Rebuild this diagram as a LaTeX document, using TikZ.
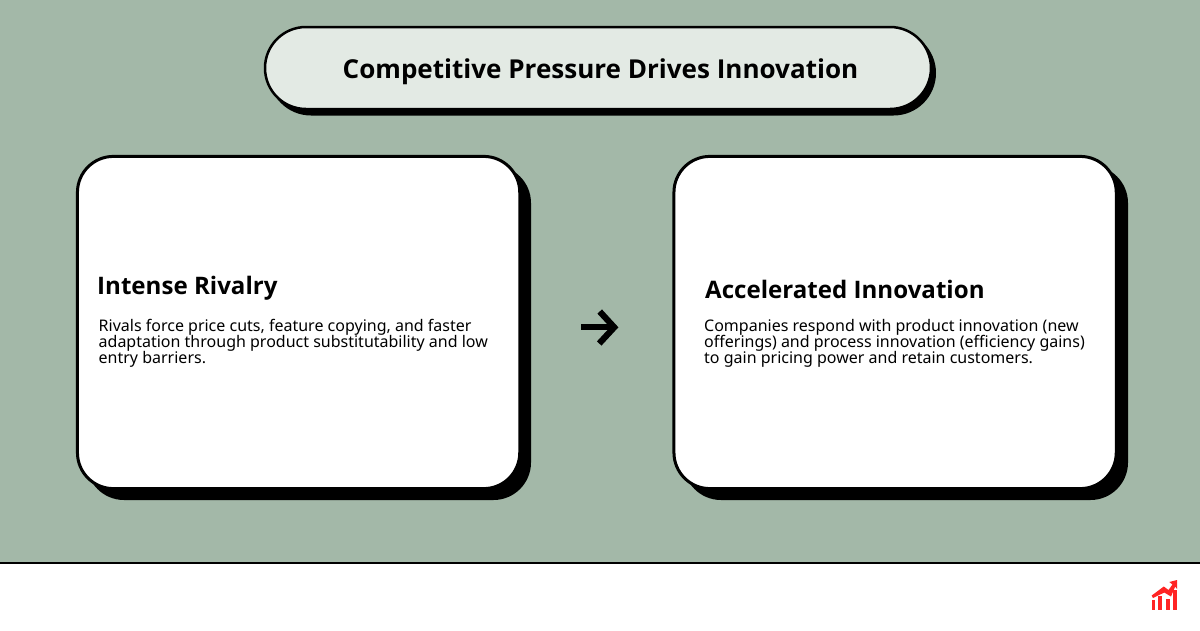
\documentclass[tikz,border=0pt]{standalone}
\usepackage{fontspec}
\setmainfont{Noto Sans}
\newfontfamily\headfont{Open Sans}
\definecolor{bgc}{HTML}{A3B8A8}
\definecolor{pillc}{HTML}{E3EAE4}
\definecolor{iconc}{HTML}{FF2424}
\lineskiplimit=-30pt
\tikzset{
  px/.style={x=1pt,y=-1pt},
  cardbox/.style={draw=black,line width=3pt,fill=white,rounded corners=36pt,minimum width=442.3pt,minimum height=332.2pt,inner sep=0pt},
  cardshadow/.style={fill=black,draw=black,line width=3pt,rounded corners=36pt},
  titletext/.style={font=\headfont\bfseries\fontsize{26.04}{32}\selectfont,inner sep=0pt,anchor=base},
  headtext/.style={font=\headfont\bfseries\fontsize{24.1}{29}\selectfont,anchor=base west,inner sep=0pt},
  bodytext/.style={font=\fontsize{16}{16.2}\selectfont,anchor=north west,inner sep=0pt,align=left},
}
\begin{document}
\begin{tikzpicture}[px]
\useasboundingbox (0,0) rectangle (1200,630);
\fill[bgc] (0,0) rectangle (1200,562);
\fill[white] (0,562) rectangle (1200,630);
\draw[black,line width=2pt] (0,562.5) -- (1200,562.5);
% title pill
\draw[cardshadow,rounded corners=41pt] (270,32) rectangle (934.5,114);
\draw[draw=black,line width=2.5pt,fill=pillc,rounded corners=41pt] (265,27) rectangle (931,109);
\node[titletext] (title) at (600.5,78) {Competitive Pressure Drives Innovation};
% left card
\draw[cardshadow] (88,167) rectangle (529.5,498.5);
\node[cardbox] (left) at (298.6,322.5) {};
\node[headtext] (lefth) at (97,294) {Intense Rivalry};
\node[bodytext] (leftb) at (98.5,319) {Rivals force price cuts, feature copying, and faster\\adaptation through product substitutability and low\\entry barriers.};
% right card
\draw[cardshadow] (685,167) rectangle (1126.5,498.5);
\node[cardbox] (right) at (895.1,322.5) {};
\node[headtext] (righth) at (705,298) {Accelerated Innovation};
\node[bodytext] (rightb) at (704,319) {Companies respond with product innovation (new\\offerings) and process innovation (efficiency gains)\\to gain pricing power and retain customers.};
% arrow glyph
\coordinate (as) at (581,327.3);
\coordinate (ae) at (614,327.3);
\coordinate (at1) at (599.7,311.5);
\coordinate (at2) at (599.2,343.5);
\coordinate (tip) at (614.2,327.3);
\draw[black,line width=6.2pt] (as) -- (ae);
\draw[black,line width=6.2pt,miter limit=10] (at1) -- (tip) -- (at2);
% icon
\fill[iconc] (1151.7,600) rectangle (1155.3,609.5);
\fill[iconc] (1158.3,596) rectangle (1162.3,609.5);
\fill[iconc] (1165.7,599) rectangle (1169.7,609.5);
\fill[iconc] (1173.3,590) rectangle (1177,609.5);
\fill[iconc] (1151.7,595.5) -- (1163.8,586.5) -- (1168.5,590) -- (1172.5,584.5) -- (1169.3,582) -- (1177,580) -- (1177,589) -- (1175.2,586.5) -- (1171,596.5) -- (1164.3,592.5) -- (1153,598) -- cycle;
\end{tikzpicture}
\end{document}
